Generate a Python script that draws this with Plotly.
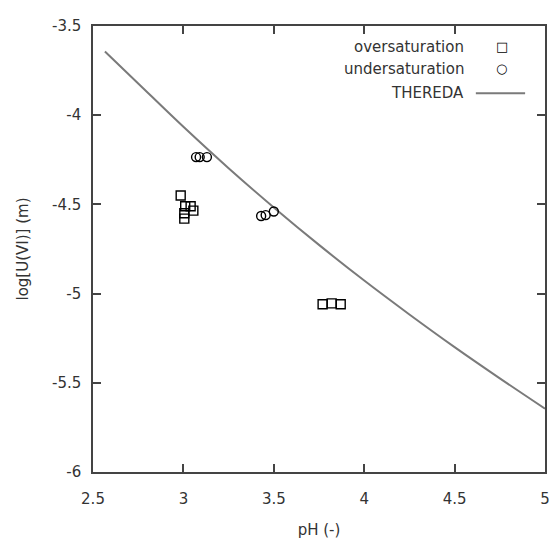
import plotly.graph_objects as go

# Data
over_ph = [2.985, 3.01, 3.04, 3.055, 3.005, 3.005, 3.77, 3.82, 3.87]
over_logu = [-4.45, -4.51, -4.51, -4.535, -4.55, -4.58, -5.06, -5.055, -5.06]

under_ph = [3.07, 3.09, 3.13, 3.43, 3.455, 3.50]
under_logu = [-4.235, -4.235, -4.235, -4.565, -4.56, -4.54]

thereda_ph = [2.566, 2.75, 3.0, 3.25, 3.5, 3.75, 4.0, 4.25, 4.5, 4.75, 5.0]
thereda_logu = [-3.643, -3.822, -4.065, -4.297, -4.517, -4.727, -4.927, -5.117, -5.30, -5.475, -5.645]

x_ticks = [2.5, 3, 3.5, 4, 4.5, 5]
y_ticks = [-3.5, -4, -4.5, -5, -5.5, -6]

legend_labels = ["oversaturation", "undersaturation", "THEREDA"]

FONT = "DejaVu Sans"
AX = "#444444"
TXT = "#333333"

fig = go.Figure()
fig.add_trace(go.Scatter(
    x=thereda_ph, y=thereda_logu, mode="lines", name=legend_labels[2],
    line=dict(color="#7a7a7a", width=2, shape="spline"), showlegend=False))
fig.add_trace(go.Scatter(
    x=over_ph, y=over_logu, mode="markers", name=legend_labels[0],
    marker=dict(symbol="square-open", size=9, color="black", line=dict(width=1.4)),
    showlegend=False))
fig.add_trace(go.Scatter(
    x=under_ph, y=under_logu, mode="markers", name=legend_labels[1],
    marker=dict(symbol="circle-open", size=9, color="black", line=dict(width=1.4)),
    showlegend=False))

# Custom legend: right-aligned labels with sample on the right (as in reference)
leg_y = [0.954, 0.904, 0.849]
leg_sym = ["□", "○", ""]
for lab, yy, sym in zip(legend_labels, leg_y, leg_sym):
    fig.add_annotation(xref="paper", yref="paper", x=0.825, y=yy, text=lab,
                       showarrow=False, xanchor="right", yanchor="middle",
                       font=dict(family=FONT, size=15, color=TXT))
    if sym:
        fig.add_annotation(xref="paper", yref="paper", x=0.904, y=yy, text=sym,
                           showarrow=False, xanchor="center", yanchor="middle",
                           font=dict(family=FONT, size=13, color="black"))
fig.add_shape(type="line", xref="paper", yref="paper", x0=0.847, x1=0.956,
              y0=leg_y[2], y1=leg_y[2], line=dict(color="#7a7a7a", width=2))

axis_common = dict(
    showgrid=False, zeroline=False, showline=True, linecolor=AX, linewidth=1.5,
    mirror="ticks", ticks="inside", ticklen=8, tickwidth=1.5, tickcolor=AX,
    tickfont=dict(family=FONT, size=15, color=TXT),
)
fig.update_xaxes(range=[2.5, 5], tickvals=x_ticks, ticktext=[str(v) for v in x_ticks],
                 ticklabelstandoff=12,
                 title=dict(text="pH (-)", font=dict(family=FONT, size=15, color=TXT), standoff=18),
                 **axis_common)
fig.update_yaxes(range=[-6, -3.5], tickvals=y_ticks, ticktext=[str(v) for v in y_ticks],
                 ticklabelstandoff=7,
                 title=dict(text="log[U(VI)] (m)", font=dict(family=FONT, size=15, color=TXT), standoff=20),
                 **axis_common)

fig.update_layout(
    width=551, height=537,
    margin=dict(l=85, r=9, t=11, b=70),
    paper_bgcolor="white", plot_bgcolor="white",
    font=dict(family=FONT, size=15, color=TXT),
)

fig.write_html("out.html")
